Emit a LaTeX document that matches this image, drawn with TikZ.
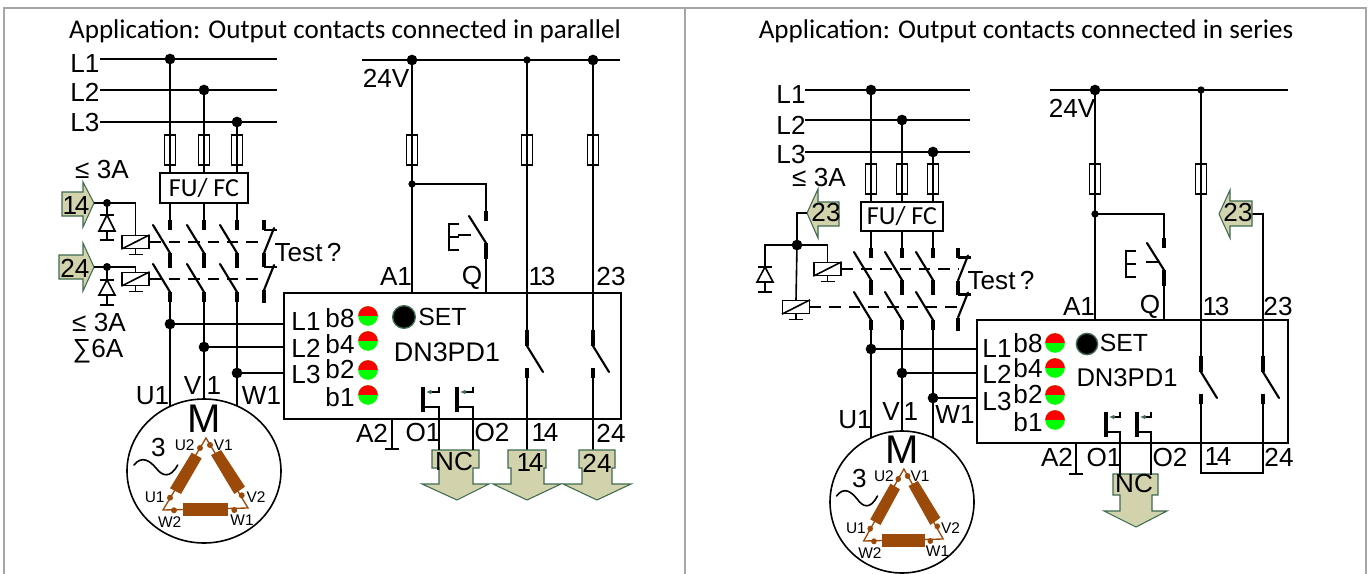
\documentclass[tikz,border=0pt]{standalone}
\usepackage{fontspec}
\setmainfont{Liberation Sans}
\newfontfamily\carl{Carlito}
\usetikzlibrary{shapes.geometric,arrows.meta}
\definecolor{arrfill}{HTML}{D2D2AC}
\definecolor{arrline}{HTML}{3F6B50}
\definecolor{coilbrown}{HTML}{9C4A0A}
\definecolor{framegray}{HTML}{A6A6A6}
\newcommand\tightd[2]{#1\kern-1.6pt #2}
\tikzset{
  wire/.style={line width=1.2pt,black},
  slashw/.style={line width=1.6pt,black,line cap=round},
  heavy/.style={line width=2.6pt,black},
  mech/.style={line width=1.2pt,black,dash pattern=on 8.5pt off 6pt},
  jdot/.style={circle,fill=black,inner sep=0pt,minimum size=8pt},
  sdot/.style={circle,fill=black,inner sep=0pt,minimum size=5.5pt},
  fusebox/.style={draw=black,line width=1pt,inner sep=0pt,minimum width=7.8pt,minimum height=22.5pt},
  coilbox/.style={draw=black,line width=1.2pt,fill=white,inner sep=0pt,minimum width=20pt,minimum height=9.5pt},
  lab/.style={inner sep=0pt,font=\fontsize{19.6pt}{21pt}\selectfont},
  labset/.style={inner sep=0pt,font=\fontsize{18.6pt}{20pt}\selectfont},
  labdn/.style={inner sep=0pt,font=\fontsize{20.2pt}{22pt}\selectfont},
  labsm/.style={inner sep=0pt,font=\fontsize{11.6pt}{13pt}\selectfont},
  labm/.style={inner sep=0pt,font=\fontsize{30pt}{32pt}\selectfont},
  titletext/.style={inner sep=0pt,font=\carl\fontsize{20.3pt}{23pt}\selectfont},
  carltext/.style={inner sep=0pt,font=\carl\fontsize{19.5pt}{22pt}\selectfont},
  arrowshape/.style={draw=arrline,fill=arrfill,line width=0.8pt,line join=miter},
  motorwire/.style={draw=coilbrown,line width=1pt},
  motorcoil/.style={fill=coilbrown},
  framel/.style={draw=framegray,line width=1.1pt},
}
% x, ytop of slash, y end of heavy part
\newcommand\powerpole[3]{%
  \draw[slashw] (#1-17,#2) -- (#1,#2+28);
  \draw[heavy] (#1,#2+28) -- (#1,#3);}
\newcommand\polestub[2]{\draw[heavy] (#1,#2) -- (#1,#2+10);}
\newcommand\testpair[2]{%
  \draw[heavy] (#1,#2) -- (#1,#2+10);
  \draw[wire,line width=1.8pt] (#1,#2+10) -- (#1+13,#2+10);
  \draw[slashw] (#1+10,#2+8) -- (#1,#2+33);
  \draw[heavy] (#1,#2+33) -- (#1,#2+47);
  \draw[wire,line width=1.8pt] (#1,#2+47) -- (#1+13,#2+47);
  \draw[slashw] (#1+10,#2+45) -- (#1,#2+70);
  \draw[heavy] (#1,#2+70) -- (#1,#2+83);}
\newcommand\gndbar[2]{\draw[wire] (#1-7,#2) -- (#1+7,#2);}
% name, x, y
\newcommand\coil[3]{%
  \node[coilbox] (#1) at (#2,#3) {};
  \draw[wire] (#1.south west) -- (#1.north east);
  \draw[wire] (#1.south) -- ++(0,6);
  \gndbar{#2}{#3+12.5}}
% x, bar y, base y, ground y
\newcommand\diode[4]{%
  \draw[wire] (#1-7,#2) -- (#1+7,#2);
  \draw[wire,line join=miter] (#1,#2) -- (#1-8,#3) -- (#1+8,#3) -- cycle;
  \draw[wire] (#1,#3) -- (#1,#4);
  \gndbar{#1}{#4}}
% x, y
\newcommand\ledlamp[2]{%
  \fill[green] (#1,#2) circle (9.8);
  \begin{scope}\clip (#1-11,#2-11) rectangle (#1+11,#2-0.5);
  \fill[red] (#1,#2) circle (9.8);\end{scope}}
% x, y, offset, y end
\newcommand\pushbtn[4]{%
  \draw[heavy] (#1,#2) -- (#1,#2+25);
  \draw[wire] (#1,#2+20) -- (#1+#3,#2+20) -- (#1+#3,#4);
  \draw[wire] (#1+#3,#2) -- (#1+#3,#2+5) -- (#1+9,#2+5);
  \draw[arrline,line width=0.9pt,-{Latex[length=4pt,width=3.5pt]}] (#1+8,#2+5) -- (#1+3,#2+5);}
% x, y top
\newcommand\nosw[2]{%
  \draw[heavy] (#1,#2) -- (#1,#2+16);
  \draw[slashw] (#1,#2+16) -- (#1+16,#2+42);
  \draw[heavy] (#1,#2+38) -- (#1,#2+48);}
% prefix, cx, cy, rx, ry, xscale
\newcommand\motor[6]{%
  \node[ellipse,draw=black,fill=white,line width=1.2pt,inner sep=0pt,minimum width=#4*1.5pt,minimum height=#5*1.5pt] (#1ring) at (#2,#3) {};
  \begin{scope}[shift={(#2,#3)},xscale=#6]
    \draw[motorwire,line join=miter] (2,-33) -- (-41,39) -- (44,37) -- cycle;
    \fill[motorcoil] (-12.3,-18.3) -- (-2.3,-12.7) -- (-23,23) -- (-34,17.3) -- cycle;
    \fill[motorcoil] (7,-16) -- (17,-21) -- (41,15.7) -- (30.3,23) -- cycle;
    \fill[motorcoil] (-21.3,32.3) rectangle (24.3,44.7);
    \foreach \px/\py in {-4/-23,6/-26,-34/26.7,37.7/24.3,-30/39.3,30.3/39}
      \fill[coilbrown] (\px,\py) circle (3);
    \node[labm] (#1M) at (0.5,-52) {M};
    \node[lab] (#1three) at (-45.7,-23.3) {3};
    \draw[line width=1.2pt,line cap=round] (-70,-6) .. controls (-62,-16) and (-54,-10) .. (-48,-3) .. controls (-42,5) and (-34,8) .. (-26.3,-6);
    \node[labsm] (#1tU2) at (-19.3,-26) {U2};
    \node[labsm] (#1tV1) at (19.3,-26) {V1};
    \node[labsm] (#1tU1) at (-49.3,26.3) {U1};
    \node[labsm] (#1tV2) at (52,26) {V2};
    \node[labsm] (#1tW2) at (-34.3,50.7) {W2};
    \node[labsm] (#1tW1) at (38,49) {W1};
  \end{scope}}
\begin{document}
\begin{tikzpicture}[x=0.75pt,y=-0.75pt]
\useasboundingbox (0,0) rectangle (1370,574);
\fill[white] (0,0) rectangle (1370,574);
% frame
\draw[framel] (4,574) -- (4,8) -- (1366,8) -- (1366,574);
\draw[framel] (685,8) -- (685,574);
\node[titletext] (ttitleL) at (345,31) {Application: Output contacts connected in parallel};
\node[titletext] (ttitleR) at (1026,31) {Application: Output contacts connected in series};

%% ===== LEFT PANEL =====
\node[lab] (lbL1) at (85,64) {L1};
\node[lab] (lbL2) at (85,92) {L2};
\node[lab] (lbL3) at (85,123) {L3};
\coordinate (lS1) at (100,59); \coordinate (lE1) at (277,59);
\coordinate (lS2) at (100,90); \coordinate (lE2) at (277,90);
\coordinate (lS3) at (100,122); \coordinate (lE3) at (277,122);
\draw[wire] (lS1) -- (lE1); \draw[wire] (lS2) -- (lE2); \draw[wire] (lS3) -- (lE3);
\node[jdot] (lD1) at (170,59) {};
\node[jdot] (lD2) at (204,90) {};
\node[jdot] (lD3) at (237,122) {};
\node[draw=black,line width=1.2pt,minimum width=66pt,minimum height=22.3pt,inner sep=0pt] (lFC) at (204,188) {};
\node[carltext] (lFCt) at (204,188) {FU/ FC};
\foreach \n/\x in {1/170,2/204,3/237}{
  \draw[wire] (lD\n.center) -- (lD\n.center |- lFC.north);
  \node[fusebox] (lF\n) at (\x,150) {};
  \draw[wire] (lD\n.center |- lFC.south) -- (\x,222);
  \polestub{\x}{220}
  \powerpole{\x}{225}{268}
  \powerpole{\x}{264}{302}
}
\testpair{264}{220}
\coil{lK1}{135.5}{242}
\coil{lK2}{135.5}{279}
\draw[mech] (lK1.east) -- (264,242);
\draw[mech] (lK2.east) -- (264,279);
\node[lab] (lTest) at (308,253) {Test\,?};
% input arrows
\draw[arrowshape] (62,192) -- (83,192) -- (83,182) -- (94,203) -- (83,227) -- (83,216) -- (62,216) -- cycle;
\node[lab] (lIn14) at (76,206) {\tightd14};
\draw[arrowshape] (59,255) -- (83,255) -- (83,243) -- (94,267) -- (83,291) -- (83,279) -- (59,279) -- cycle;
\node[lab] (lIn24) at (75,268) {24};
\node[sdot,minimum size=6pt] (lJ14) at (107,203) {};
\node[sdot,minimum size=6pt] (lJ24) at (107,267) {};
\draw[wire] (94,203) -- (lJ14.center) -| (lK1.north);
\draw[wire] (94,267) -- (lJ24.center) -| (lK2.north);
\draw[wire] (lJ14.center) -- (107,215);
\draw[wire] (lJ24.center) -- (107,280);
\diode{107}{215}{231}{240}
\diode{107}{280}{295}{305}
\node[lab] (lLe1) at (102,170) {≤ 3A};
\node[lab] (lLe2) at (99,323) {≤ 3A};
\node[lab] (lSum) at (98,351) {∑6A};
% relay
\node[draw=black,line width=1.2pt,minimum width=252.5pt,minimum height=94.5pt,inner sep=0pt] (lRelay) at (452.5,356) {};
\node[jdot] (lP1) at (170,324) {};
\node[jdot] (lP2) at (204,347) {};
\node[jdot] (lP3) at (237,373) {};
\coordinate (lMc) at (204,471);
\foreach \n in {1,2,3}{
  \draw[wire] (lP\n.center) -- (lP\n.center -| lRelay.west);
}
\draw[wire] (170,300) -- (170,471);
\draw[wire] (204,300) -- (204,471);
\draw[wire] (237,300) -- (237,471);
\motor{l}{204}{471}{77}{72}{1}
\node[lab] (lU1) at (152.5,396) {U1};
\node[lab] (lV) at (192.5,386) {V};
\node[lab] (lOne) at (214,386) {1};
\node[lab] (lW1) at (261.5,396) {W1};
\foreach \t/\y/\m/\n in {L1/322/b8/318,L2/348/b4/344,L3/375/b2/369}{
  \node[lab] at (306,\y) {\t};
  \node[lab] at (340,\n) {\m};
}
\node[lab] (lb1) at (340,397) {b1};
\ledlamp{368}{316}\ledlamp{368}{341}\ledlamp{368}{370}\ledlamp{368}{395}
\node[circle,fill=black,draw=arrline,line width=1pt,minimum size=17pt,inner sep=0pt] (lSetB) at (404,317) {};
\node[labset] (lSet) at (442.5,317) {SET};
\node[labdn] (lDN) at (447,352) {DN3PD1};
% control supply
\coordinate (lV0) at (362,60); \coordinate (lV1) at (620,60);
\draw[wire] (lV0) -- (lV1);
\node[jdot] (lA) at (412,60) {};
\node[sdot] (l13d) at (527,60) {};
\node[jdot] (l23d) at (593,60) {};
\node[lab] (l24V) at (386,78) {24V};
\draw[wire] (lA.center) -- (lA.center |- lRelay.north);
\node[fusebox] (lFa) at (412,150) {};
\node[fusebox] (lFb) at (527,150) {};
\node[fusebox] (lFc) at (593,150) {};
\node[sdot] (lAj) at (412,184) {};
\draw[wire] (lAj.center) -| (486,211);
\draw[heavy] (486,211) -- (486,221);
\draw[slashw] (469,216) -- (486,243);
\draw[heavy] (486,243) -- (486,259);
\coordinate (lQb) at (486,259);
\draw[wire] (lQb) -- (lQb |- lRelay.north);
\draw[wire] (458,235) -- (471,235);
\draw[wire] (459,224) -- (449,224) -- (449,250) -- (459,250);
\draw[wire] (449,237) -- (459,237);
\nosw{527}{330}
\nosw{593}{330}
\draw[wire] (l13d.center) -- (527,330);
\draw[wire] (l23d.center) -- (593,330);
\draw[wire] (527,378) -- (527,450);
\draw[wire] (593,378) -- (593,450);
\node[lab] (lA1t) at (396,277) {A1};
\node[lab] (lQt) at (472,278) {Q};
\node[lab] (l13t) at (542,277) {\tightd13};
\node[lab] (l23t) at (611,277) {23};
\node[lab] (lA2t) at (372,433) {A2};
\node[lab] (lO1t) at (423,433) {O1};
\node[lab] (lO2t) at (492,433) {O2};
\node[lab] (l14t) at (545,433) {\tightd14};
\node[lab] (l24t) at (611,433) {24};
\draw[wire] (392,419) -- (392,449);
\gndbar{392}{449}
% output arrows
\draw[arrowshape] (432,450) -- (479,450) -- (479,468) -- (473,468) -- (473,484) -- (489,484) -- (457,500) -- (422,484) -- (439,484) -- (439,468) -- (432,468) -- cycle;
\draw[arrowshape] (508,450) -- (546,450) -- (546,468) -- (544,468) -- (544,484) -- (561,484) -- (527,500) -- (493,484) -- (511,484) -- (511,468) -- (508,468) -- cycle;
\draw[arrowshape] (579,450) -- (615,450) -- (615,468) -- (612,468) -- (612,484) -- (631,484) -- (597,500) -- (563,484) -- (582,484) -- (582,468) -- (579,468) -- cycle;
\pushbtn{423}{387}{16}{450}
\pushbtn{457}{387}{16}{450}
\node[lab] (lNC) at (454,461) {NC};
\node[lab] (lO14) at (530,463) {\tightd14};
\node[lab] (lO24) at (597,463) {24};

%% ===== RIGHT PANEL =====
\node[lab] (rbL1) at (791,95) {L1};
\node[lab] (rbL2) at (791,125) {L2};
\node[lab] (rbL3) at (791,155) {L3};
\coordinate (rS1) at (805,90); \coordinate (rE1) at (970,90);
\coordinate (rS2) at (805,120); \coordinate (rE2) at (970,120);
\coordinate (rS3) at (805,152); \coordinate (rE3) at (970,152);
\draw[wire] (rS1) -- (rE1); \draw[wire] (rS2) -- (rE2); \draw[wire] (rS3) -- (rE3);
\node[jdot] (rD1) at (871,90) {};
\node[jdot] (rD2) at (902,120) {};
\node[jdot] (rD3) at (933,152) {};
\node[draw=black,line width=1.2pt,minimum width=61.5pt,minimum height=22pt,inner sep=0pt] (rFC) at (902,216.5) {};
\node[carltext] (rFCt) at (902,216) {FU/ FC};
\foreach \n/\x in {1/871,2/902,3/933}{
  \draw[wire] (rD\n.center) -- (rD\n.center |- rFC.north);
  \node[fusebox] (rF\n) at (\x,179) {};
  \draw[wire] (rD\n.center |- rFC.south) -- (\x,250);
  \polestub{\x}{248}
  \powerpole{\x}{252}{295}
  \powerpole{\x}{292}{330}
}
\testpair{958}{247.5}
\coil{rK1}{827.5}{269}
\coil{rK2}{796}{307}
\draw[mech] (rK1.east) -- (958,269);
\draw[mech] (rK2.east) -- (958,307);
\node[lab] (rTest) at (1001,281) {Test\,?};
\node[lab] (rLe) at (819,178) {≤ 3A};
\draw[arrowshape] (807,213) -- (818,189) -- (818,202) -- (839,202) -- (839,226) -- (818,226) -- (818,238) -- cycle;
\node[lab] (rIn23) at (826,213) {23};
\node[jdot] (rJ) at (797,245) {};
\draw[wire] (807,213) -| (rJ.center);
\draw[wire] (rJ.center) -- (rK2.north);
\draw[wire] (rJ.center) -| (rK1.north);
\draw[wire] (rJ.center) -| (765,267);
\diode{765}{267}{282}{292}
% relay
\node[draw=black,line width=1.2pt,minimum width=233.3pt,minimum height=92.3pt,inner sep=0pt] (rRelay) at (1132.5,381.5) {};
\node[jdot] (rP1) at (871,349) {};
\node[jdot] (rP2) at (902,373) {};
\node[jdot] (rP3) at (933,398) {};
\foreach \n in {1,2,3}{
  \draw[wire] (rP\n.center) -- (rP\n.center -| rRelay.west);
}
\draw[wire] (871,328) -- (871,502);
\draw[wire] (902,328) -- (902,502);
\draw[wire] (933,328) -- (933,502);
\motor{r}{902}{502}{72}{71}{0.935}
\node[lab] (rU1) at (855,420) {U1};
\node[lab] (rV) at (891,412) {V};
\node[lab] (rOne) at (911,412) {1};
\node[lab] (rW1) at (955,415) {W1};
\foreach \t/\y/\m/\n in {L1/349/b8/343,L2/374/b4/368,L3/402/b2/394}{
  \node[lab] at (997,\y) {\t};
  \node[lab] at (1028,\n) {\m};
}
\node[lab] (rb1) at (1028,422) {b1};
\ledlamp{1055}{343}\ledlamp{1055}{368}\ledlamp{1055}{395}\ledlamp{1055}{420}
\node[circle,fill=black,draw=arrline,line width=1pt,minimum size=16pt,inner sep=0pt] (rSetB) at (1087,344) {};
\node[labset] (rSet) at (1124,343) {SET};
\node[labset,font=\fontsize{19.2pt}{21pt}\selectfont] (rDN) at (1127,378) {DN3PD1};
% control supply
\coordinate (rV0) at (1050,90); \coordinate (rV1) at (1288,90);
\draw[wire] (rV0) -- (rV1);
\node[jdot] (rA) at (1095,90) {};
\node[sdot] (r13d) at (1201,90) {};
\node[lab] (r24V) at (1072,108) {24V};
\draw[wire] (rA.center) -- (rA.center |- rRelay.north);
\node[fusebox] (rFa) at (1095,179) {};
\node[fusebox] (rFb) at (1201,179) {};
\node[sdot] (rAj) at (1095,214) {};
\draw[wire] (rAj.center) -| (1164,240);
\draw[heavy] (1164,238) -- (1164,248);
\draw[slashw] (1147,243) -- (1164,270);
\draw[heavy] (1164,270) -- (1164,286);
\coordinate (rQb) at (1164,286);
\draw[wire] (rQb) -- (rQb |- rRelay.north);
\draw[wire] (1146,262) -- (1158,262);
\draw[wire] (1136,251) -- (1126,251) -- (1126,277) -- (1136,277);
\draw[wire] (1126,264) -- (1136,264);
\nosw{1201}{356}
\nosw{1263}{356}
\draw[wire] (r13d.center) -- (1201,356);
\coordinate (rTop23) at (1263,214);
\draw[wire] (1252,214) -- (rTop23) -- (1263,356);
\coordinate (rLnkA) at (1201,473); \coordinate (rLnkB) at (1263,473);
\draw[wire] (1201,403) -- (rLnkA) -- (rLnkB) -- (1263,403);
\draw[arrowshape] (1219,214) -- (1230,190) -- (1230,201) -- (1252,201) -- (1252,226) -- (1230,226) -- (1230,238) -- cycle;
\node[lab] (rI23) at (1238,213) {23};
\node[lab] (rA1t) at (1079,307) {A1};
\node[lab] (rQt) at (1150,307) {Q};
\node[lab] (r13t) at (1216,307) {\tightd13};
\node[lab] (r23t) at (1278,307) {23};
\node[lab] (rA2t) at (1057,457) {A2};
\node[lab] (rO1t) at (1104,457) {O1};
\node[lab] (rO2t) at (1170,457) {O2};
\node[lab] (r14t) at (1218,457) {\tightd14};
\node[lab] (r24t) at (1279,457) {24};
\draw[wire] (1076,443) -- (1076,474);
\gndbar{1076}{474}
\draw[arrowshape] (1113,474) -- (1158,474) -- (1158,495) -- (1152,495) -- (1152,511) -- (1167,511) -- (1136,527) -- (1104,511) -- (1120,511) -- (1120,495) -- (1113,495) -- cycle;
\pushbtn{1106}{412}{14}{475}
\pushbtn{1137}{412}{14}{475}
\node[lab] (rNC) at (1134,484) {NC};
\end{tikzpicture}
\end{document}
